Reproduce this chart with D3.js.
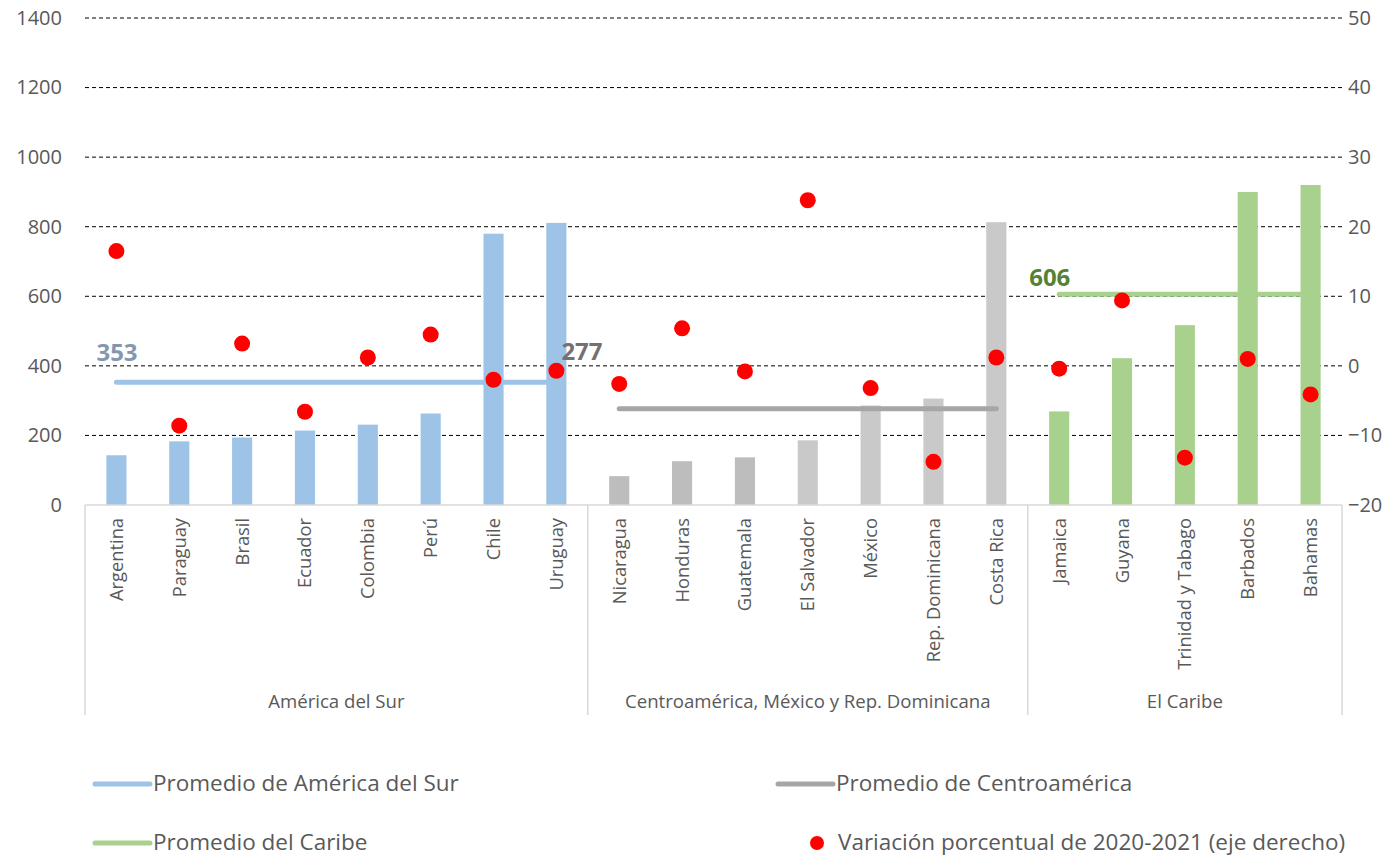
<!DOCTYPE html>
<html>
  <head>
    <meta charset="utf-8">
    <title>Promedios regionales y variación 2020-2021</title>
    <script src="https://d3js.org/d3.v7.min.js"></script>
    <style>
      body { margin: 0; background: #fff; }
      text { font-family: "Open Sans", Lato, sans-serif; }
    </style>
  </head>
  <body>
    <svg id="chart" width="1399" height="857"></svg>
    <script>
      // --- data ---
      var countries = ["Argentina", "Paraguay", "Brasil", "Ecuador", "Colombia", "Perú", "Chile", "Uruguay",
                       "Nicaragua", "Honduras", "Guatemala", "El Salvador", "México", "Rep. Dominicana", "Costa Rica",
                       "Jamaica", "Guyana", "Trinidad y Tabago", "Barbados", "Bahamas"];
      var values = [143, 183, 194, 214, 231, 263, 780, 811,
                    83, 126, 137, 186, 286, 306, 813,
                    269, 422, 517, 900, 920];
      var variation = [16.5, -8.6, 3.2, -6.6, 1.2, 4.5, -2.0, -0.7,
                       -2.6, 5.4, -0.8, 23.8, -3.2, -13.8, 1.2,
                       -0.4, 9.4, -13.2, 1.0, -4.1];
      var groupNames = ["América del Sur", "Centroamérica, México y Rep. Dominicana", "El Caribe"];
      var groupSizes = [8, 7, 5];
      var averages = [353, 277, 606];
      var legendNames = ["Promedio de América del Sur", "Promedio de Centroamérica",
                         "Promedio del Caribe", "Variación porcentual de 2020-2021 (eje derecho)"];
      var leftTicks = [0, 200, 400, 600, 800, 1000, 1200, 1400];
      var rightTicks = [-20, -10, 0, 10, 20, 30, 40, 50];

      // --- look ---
      var barColors = ["#9dc3e6", "#bfbfbf", "#a9d18e"];
      var lineColors = ["#9dc3e6", "#a6a6a6", "#a9d18e"];
      var labelColors = ["#8497b0", "#767171", "#548235"];
      var darkerGrey = ["Nicaragua", "Honduras", "Guatemala"];

      var svg = d3.select("#chart");
      var pLeft = 85, pRight = 1342, pTop = 18, pBottom = 505;

      var x = d3.scaleBand().domain(countries).range([pLeft, pRight]).padding(0);
      var yL = d3.scaleLinear().domain([0, 1400]).range([pBottom, pTop]);
      var yR = d3.scaleLinear().domain([-20, 50]).range([pBottom, pTop]);
      var barW = x.bandwidth() * 0.32;
      var cx = function (d) { return x(d) + x.bandwidth() / 2; };

      // group index of each country
      var groupOf = [];
      groupSizes.forEach(function (n, g) { for (var i = 0; i < n; i++) groupOf.push(g); });
      var groupStart = [], s = 0;
      groupSizes.forEach(function (n) { groupStart.push(s); s += n; });

      // gridlines
      svg.append("g").selectAll("line")
        .data(leftTicks.filter(function (d) { return d > 0; }))
        .enter().append("line")
        .attr("x1", pLeft).attr("x2", pRight)
        .attr("y1", function (d) { return yL(d); })
        .attr("y2", function (d) { return yL(d); })
        .attr("stroke", "#000").attr("stroke-width", 1)
        .attr("stroke-dasharray", "4,3");

      // axes labels
      var axL = svg.append("g").attr("transform", "translate(" + pLeft + ",0)")
        .call(d3.axisLeft(yL).tickValues(leftTicks).tickFormat(d3.format("d")).tickSize(0).tickPadding(23));
      var axR = svg.append("g").attr("transform", "translate(" + pRight + ",0)")
        .call(d3.axisRight(yR).tickValues(rightTicks).tickFormat(d3.format("d")).tickSize(0).tickPadding(6));
      [axL, axR].forEach(function (a) {
        a.select(".domain").remove();
        a.selectAll("text").attr("font-size", 20).attr("fill", "#595959")
          .style("font-family", "'Open Sans', Lato, sans-serif");
      });

      // bars
      svg.append("g").selectAll("rect")
        .data(countries)
        .enter().append("rect")
        .attr("x", function (d) { return x(d) + (x.bandwidth() - barW) / 2; })
        .attr("width", barW)
        .attr("y", function (d, i) { return yL(values[i]); })
        .attr("height", function (d, i) { return pBottom - yL(values[i]); })
        .attr("fill", function (d, i) {
          if (groupOf[i] === 1) return darkerGrey.indexOf(d) >= 0 ? "#bdbdbd" : "#c9c9c9";
          return barColors[groupOf[i]];
        });

      // average lines
      svg.append("g").selectAll("line")
        .data(averages)
        .enter().append("line")
        .attr("x1", function (d, g) { return cx(countries[groupStart[g]]); })
        .attr("x2", function (d, g) { return cx(countries[groupStart[g] + groupSizes[g] - 1]); })
        .attr("y1", function (d) { return yL(d); })
        .attr("y2", function (d) { return yL(d); })
        .attr("stroke", function (d, g) { return lineColors[g]; })
        .attr("stroke-width", 5).attr("stroke-linecap", "round");

      // average labels (placed like the original's hand-moved data labels)
      var labelAt = [{ c: 0, dx: -20, dy: -21 }, { c: 7, dx: 5, dy: -49 }, { c: 15, dx: -30, dy: -8 }];
      svg.append("g").selectAll("text")
        .data(averages)
        .enter().append("text")
        .attr("x", function (d, g) { return cx(countries[labelAt[g].c]) + labelAt[g].dx; })
        .attr("y", function (d, g) { return yL(d) + labelAt[g].dy; })
        .attr("font-size", 24).attr("font-weight", "bold")
        .attr("fill", function (d, g) { return labelColors[g]; })
        .text(function (d) { return d; });

      // variation dots
      svg.append("g").selectAll("circle")
        .data(variation)
        .enter().append("circle")
        .attr("cx", function (d, i) { return cx(countries[i]); })
        .attr("cy", function (d) { return yR(d); })
        .attr("r", 8).attr("fill", "#ff0000");

      // category axis
      var catBottom = 715;
      var cat = svg.append("g").attr("stroke", "#d9d9d9").attr("stroke-width", 1.5);
      cat.append("line").attr("x1", pLeft).attr("x2", pRight).attr("y1", pBottom).attr("y2", pBottom);
      var seps = [pLeft];
      groupSizes.forEach(function (n, g) {
        seps.push(x(countries[groupStart[g] + n - 1]) + x.bandwidth());
      });
      cat.selectAll("line.sep").data(seps).enter().append("line")
        .attr("class", "sep")
        .attr("x1", function (d) { return d; }).attr("x2", function (d) { return d; })
        .attr("y1", pBottom).attr("y2", catBottom);

      svg.append("g").selectAll("text")
        .data(countries)
        .enter().append("text")
        .attr("transform", function (d) {
          return "translate(" + (cx(d) + 6.5) + "," + (pBottom + 13) + ") rotate(-90)";
        })
        .attr("text-anchor", "end")
        .attr("font-size", 18.3).attr("fill", "#595959")
        .text(function (d) { return d; });

      svg.append("g").selectAll("text")
        .data(groupNames)
        .enter().append("text")
        .attr("x", function (d, g) { return (seps[g] + seps[g + 1]) / 2; })
        .attr("y", 708)
        .attr("text-anchor", "middle")
        .attr("font-size", 18.6).attr("fill", "#595959")
        .text(function (d) { return d; });

      // legend
      var legendPos = [{ x: 95, y: 784 }, { x: 778, y: 784 }, { x: 95, y: 843 }, { x: 795, y: 843 }];
      var leg = svg.append("g").selectAll("g")
        .data(legendNames)
        .enter().append("g")
        .attr("transform", function (d, i) { return "translate(" + legendPos[i].x + "," + legendPos[i].y + ")"; });
      leg.filter(function (d, i) { return i < 3; }).append("line")
        .attr("x1", 0).attr("x2", 55).attr("y1", 0).attr("y2", 0)
        .attr("stroke", function (d, i) { return lineColors[i]; })
        .attr("stroke-width", 5).attr("stroke-linecap", "round");
      leg.filter(function (d, i) { return i === 3; }).append("circle")
        .attr("cx", 22).attr("cy", 0).attr("r", 7).attr("fill", "#ff0000");
      leg.append("text")
        .attr("x", function (d, i) { return i < 3 ? 58 : 43; })
        .attr("y", 7)
        .attr("font-size", 22.5).attr("fill", "#595959")
        .text(function (d) { return d; });
    </script>
  </body>
</html>
